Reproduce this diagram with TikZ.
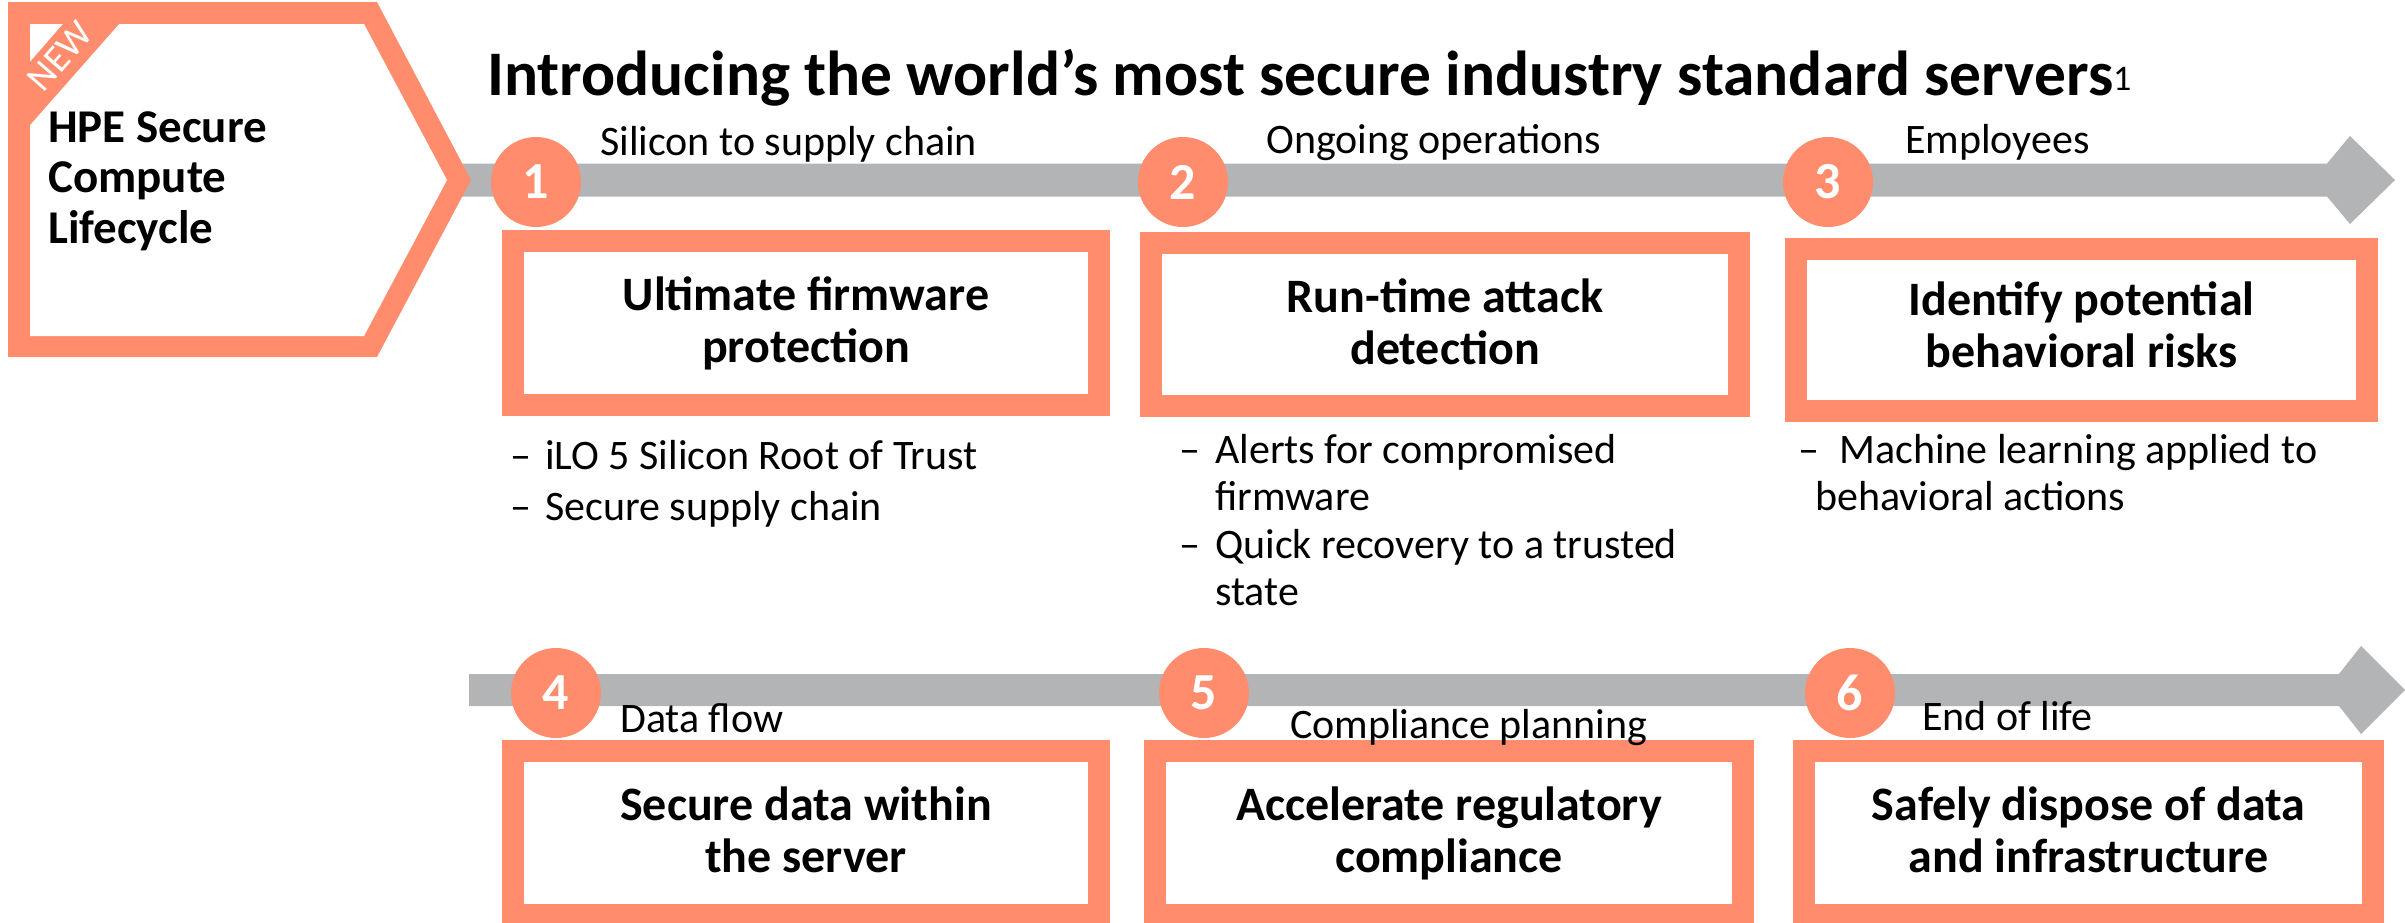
\documentclass[tikz,border=0pt]{standalone}
\usepackage{fontspec}
\setmainfont{Carlito}
\definecolor{hpeorange}{RGB}{255,141,109}
\definecolor{bargray}{RGB}{178,180,181}
\newcommand\fsz[2]{\fontsize{#1pt}{#2pt}\selectfont}
\tikzset{
  stagebox/.style={draw=hpeorange, line width=22pt, fill=white, inner sep=0pt},
  numdot/.style={circle, fill=hpeorange, minimum size=90pt, inner sep=0pt, text=white, font=\bfseries\fsz{52}{52}},
  phase/.style={anchor=base west, inner sep=0pt, font=\fsz{42}{50}},
  boxtitle/.style={anchor=base, inner sep=0pt, font=\bfseries\fsz{48}{52}},
  bullet/.style={anchor=base west, inner sep=0pt, font=\fsz{42}{47.5}},
}
\begin{document}
\begin{tikzpicture}[x=1pt,y=-1pt]
\useasboundingbox (0,0) rectangle (2405,922);
\clip (0,0) rectangle (2405,922);
% timeline bars
\fill[bargray] (461,163.5) -- (2327,163.5) -- (2350,136) -- (2395,180) -- (2350,224) -- (2327,196.5) -- (461,196.5) -- cycle;
\fill[bargray] (469,674) -- (2339,674) -- (2361,646) -- (2405,690) -- (2361,734) -- (2339,706) -- (469,706) -- cycle;
% pentagon
\fill[hpeorange] (8,2) -- (377,2) -- (471,180) -- (377,357) -- (8,357) -- cycle;
\fill[white] (30,24) -- (364,24) -- (447,180) -- (364,336) -- (30,336) -- cycle;
\fill[hpeorange] (63,24) -- (119,24) -- (30,125) -- (30,62) -- cycle;
\node[rotate=49, text=white, font=\fsz{38}{38}, inner sep=0pt] (new) at (60,56) {NEW};
\node[anchor=base west, inner sep=0pt, font=\bfseries\fsz{47}{50.5}] (hpe) at (48,142)
  {\parbox[t]{320pt}{HPE Secure\\Compute\\Lifecycle}};
% title
\node[anchor=base west, inner sep=0pt, font=\bfseries\fsz{63.5}{63.5}] (title) at (487,95)
  {Introducing the world’s most secure industry standard servers\raisebox{5pt}{\mdseries\fsz{36}{36}1}};
% number dots
\node[numdot] (n1) at (536,182) {1};
\node[numdot] (n2) at (1183,182) {2};
\node[numdot] (n3) at (1828,182) {3};
\node[numdot] (n4) at (556,693) {4};
\node[numdot] (n5) at (1204,693) {5};
\node[numdot] (n6) at (1850,693) {6};
% boxes
\node[stagebox, minimum width=586pt, minimum height=164pt] (b1) at (806,323) {};
\node[stagebox, minimum width=588pt, minimum height=163pt] (b2) at (1445,324.5) {};
\node[stagebox, minimum width=571pt, minimum height=162pt] (b3) at (2081.5,330) {};
\node[stagebox, minimum width=586pt, minimum height=164pt] (b4) at (806,833) {};
\node[stagebox, minimum width=588pt, minimum height=164pt] (b5) at (1449,833) {};
\node[stagebox, minimum width=569pt, minimum height=164pt] (b6) at (2088.5,833) {};
% box titles
\node[boxtitle] (t1) at (806,310) {\parbox[t]{560pt}{\centering Ultimate firmware\\protection}};
\node[boxtitle] (t2) at (1445,312) {\parbox[t]{560pt}{\centering Run-time attack\\detection}};
\node[boxtitle] (t3) at (2081.5,315) {\parbox[t]{560pt}{\centering Identify potential\\behavioral risks}};
\node[boxtitle] (t4) at (806,820) {\parbox[t]{560pt}{\centering Secure data within\\the server}};
\node[boxtitle] (t5) at (1449,820) {\parbox[t]{560pt}{\centering Accelerate regulatory\\compliance}};
\node[boxtitle] (t6) at (2088.5,820) {\parbox[t]{560pt}{\centering Safely dispose of data\\and infrastructure}};
% phase labels
\node[phase] (p1) at (600,155) {Silicon to supply chain};
\node[phase] (p2) at (1266,153) {Ongoing operations};
\node[phase] (p3) at (1905,153) {Employees};
\node[phase] (p4) at (620,732) {Data flow};
\node[phase] (p5) at (1290,738) {Compliance planning};
\node[phase] (p6) at (1922,730) {End of life};
% bullets
\node[bullet] (c1a) at (510,469) {\parbox[t]{600pt}{\makebox[35pt][l]{–}iLO 5 Silicon Root of Trust}};
\node[bullet] (c1b) at (510,520) {\parbox[t]{600pt}{\makebox[35pt][l]{–}Secure supply chain}};
\node[bullet] (c2a) at (1179,463) {\parbox[t]{600pt}{\hangindent=36pt\hangafter=1\makebox[36pt][l]{–}Alerts for compromised\\firmware}};
\node[bullet] (c2b) at (1179,558) {\parbox[t]{600pt}{\hangindent=36pt\hangafter=1\makebox[36pt][l]{–}Quick recovery to a trusted\\state}};
\node[bullet] (c3a) at (1798,463) {\parbox[t]{600pt}{\hangindent=17pt\hangafter=1\makebox[41pt][l]{–}Machine learning applied to\\behavioral actions}};
\end{tikzpicture}
\end{document}
